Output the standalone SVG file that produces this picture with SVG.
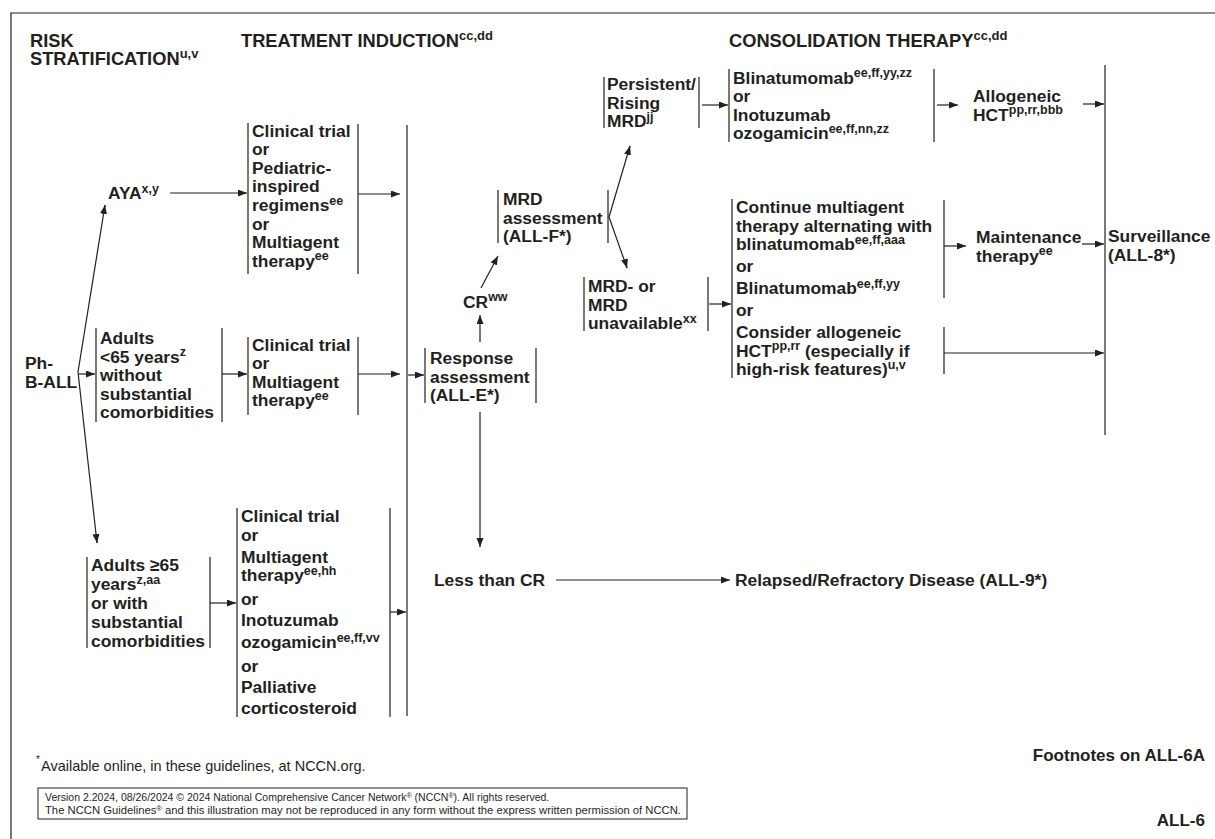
<svg xmlns="http://www.w3.org/2000/svg" width="1215" height="839" viewBox="0 0 1215 839">
<defs>
<marker id="ah" markerUnits="userSpaceOnUse" markerWidth="10" markerHeight="8" refX="9" refY="3.5" orient="auto">
<path d="M0,0 L9,3.5 L0,7 z" fill="#231f20"/>
</marker>
<style>
text{font-family:"Liberation Sans",Arial,Helvetica,sans-serif;fill:#231f20}
.t{font-weight:bold;font-size:17.4px}
.h{font-weight:bold;font-size:18.3px}
.s{font-size:12.5px}
.hs{font-size:13px}
.r{font-weight:normal}
.ln{stroke:#231f20;stroke-width:1.2;fill:none}
.ar{stroke:#231f20;stroke-width:1.2;fill:none;marker-end:url(#ah)}
</style>
</defs>
<rect width="1215" height="839" fill="#fff"/>
<path class="ln" d="M11,839 V13 H1215"/>

<g id="headers">
<text class="h" x="30" y="47">RISK</text>
<text class="h" x="30" y="65">STRATIFICATION<tspan class="hs" dy="-7">u,v</tspan></text>
<text class="h" x="241" y="47">TREATMENT INDUCTION<tspan class="hs" dy="-7">cc,dd</tspan></text>
<text class="h" x="729" y="47">CONSOLIDATION THERAPY<tspan class="hs" dy="-7">cc,dd</tspan></text>
</g>

<g id="ph-b-all"><text class="t" x="25" y="369">Ph-<tspan x="25" y="388">B-ALL</tspan></text></g>

<g id="aya"><text class="t" x="108" y="199">AYA<tspan class="s" dy="-6.5">x,y</tspan></text></g>

<g id="aya-tx">
<path class="ln" d="M248,123 V274 M358,124 V274"/>
<text class="t" x="252" y="136.7">Clinical trial<tspan x="252" y="155.3">or</tspan><tspan x="252" y="173.9">Pediatric-</tspan><tspan x="252" y="192.4">inspired</tspan><tspan x="252" y="211">regimens<tspan class="s" dy="-6.5">ee</tspan></tspan><tspan x="252" y="229.6">or</tspan><tspan x="252" y="248.1">Multiagent</tspan><tspan x="252" y="266.7">therapy<tspan class="s" dy="-6.5">ee</tspan></tspan></text>
</g>

<g id="adults-lt65">
<path class="ln" d="M96,328 V422 M222,328 V422"/>
<text class="t" x="100" y="344">Adults<tspan x="100" y="362.6">&lt;65 years<tspan class="s" dy="-6.5">z</tspan></tspan><tspan x="100" y="381.2">without</tspan><tspan x="100" y="399.8">substantial</tspan><tspan x="100" y="418.4">comorbidities</tspan></text>
</g>

<g id="adults-lt65-tx">
<path class="ln" d="M248,337 V415 M358,337 V415"/>
<text class="t" x="252" y="350.5">Clinical trial<tspan x="252" y="369.1">or</tspan><tspan x="252" y="387.7">Multiagent</tspan><tspan x="252" y="406.3">therapy<tspan class="s" dy="-6.5">ee</tspan></tspan></text>
</g>

<g id="adults-ge65">
<path class="ln" d="M87,557 V648 M210,557 V648"/>
<text class="t" x="91" y="571">Adults ≥65<tspan x="91" y="590">years<tspan class="s" dy="-6.5">z,aa</tspan></tspan><tspan x="91" y="609">or with</tspan><tspan x="91" y="628">substantial</tspan><tspan x="91" y="647">comorbidities</tspan></text>
</g>

<g id="adults-ge65-tx">
<path class="ln" d="M237,508 V717 M390,508 V717"/>
<text class="t" x="241" y="522">Clinical trial<tspan x="241" y="541">or</tspan><tspan x="241" y="563">Multiagent</tspan><tspan x="241" y="581">therapy<tspan class="s" dy="-6.5">ee,hh</tspan></tspan><tspan x="241" y="605">or</tspan><tspan x="241" y="626">Inotuzumab</tspan><tspan x="241" y="648">ozogamicin<tspan class="s" dy="-6.5">ee,ff,vv</tspan></tspan><tspan x="241" y="672">or</tspan><tspan x="241" y="693">Palliative</tspan><tspan x="241" y="714">corticosteroid</tspan></text>
</g>

<g id="induction-bar"><path class="ln" d="M407,125 V716"/></g>

<g id="response">
<path class="ln" d="M425,348 V403 M536,348 V403"/>
<text class="t" x="430" y="364">Response<tspan x="430" y="382.6">assessment</tspan><tspan x="430" y="401.2">(ALL-E*)</tspan></text>
</g>

<g id="cr"><text class="t" x="463" y="307.5">CR<tspan class="s" dy="-6.5">ww</tspan></text></g>

<g id="mrd-assessment">
<path class="ln" d="M498,190 V243 M608,190 V243"/>
<text class="t" x="503" y="205">MRD<tspan x="503" y="223.6">assessment</tspan><tspan x="503" y="242.2">(ALL-F*)</tspan></text>
</g>

<g id="persistent">
<path class="ln" d="M604,77 V128 M699,77 V128"/>
<text class="t" x="607" y="90">Persistent/<tspan x="607" y="108.6">Rising</tspan><tspan x="607" y="127.2">MRD<tspan class="s" dy="-6.5">jj</tspan></tspan></text>
</g>

<g id="blina-ino">
<path class="ln" d="M729,69 V142 M934,69 V142"/>
<text class="t" x="733" y="83.5">Blinatumomab<tspan class="s" dy="-6.5">ee,ff,yy,zz</tspan><tspan x="733" y="102.1">or</tspan><tspan x="733" y="120.7">Inotuzumab</tspan><tspan x="733" y="139.3">ozogamicin<tspan class="s" dy="-6.5">ee,ff,nn,zz</tspan></tspan></text>
</g>

<g id="allo-hct"><text class="t" x="973" y="102">Allogeneic<tspan x="973" y="120.6">HCT<tspan class="s" dy="-6.5">pp,rr,bbb</tspan></tspan></text></g>

<g id="mrd-neg">
<path class="ln" d="M584,277 V331 M708,277 V331"/>
<text class="t" x="588" y="292">MRD- or<tspan x="588" y="310.6">MRD</tspan><tspan x="588" y="329.2">unavailable<tspan class="s" dy="-6.5">xx</tspan></tspan></text>
</g>

<g id="continue">
<path class="ln" d="M732,199 V378 M944,200 V298 M944,327 V374"/>
<text class="t" x="736" y="213">Continue multiagent<tspan x="736" y="231.6">therapy alternating with</tspan><tspan x="736" y="250.2">blinatumomab<tspan class="s" dy="-6.5">ee,ff,aaa</tspan></tspan><tspan x="736" y="271.5">or</tspan><tspan x="736" y="294">Blinatumomab<tspan class="s" dy="-6.5">ee,ff,yy</tspan></tspan><tspan x="736" y="316">or</tspan><tspan x="736" y="338">Consider allogeneic</tspan><tspan x="736" y="356.6">HCT<tspan class="s" dy="-6.5">pp,rr</tspan><tspan dy="6.5"> (especially if</tspan></tspan><tspan x="736" y="375.2">high-risk features)<tspan class="s" dy="-6.5">u,v</tspan></tspan></text>
</g>

<g id="maintenance"><text class="t" x="976" y="243">Maintenance<tspan x="976" y="261.6">therapy<tspan class="s" dy="-6.5">ee</tspan></tspan></text></g>

<g id="surveillance">
<path class="ln" d="M1105,65 V435"/>
<text class="t" x="1108" y="242">Surveillance<tspan x="1108" y="260.6">(ALL-8*)</tspan></text>
</g>

<g id="less-than-cr"><text class="t" x="434" y="586">Less than CR</text></g>
<g id="relapsed"><text class="t" x="735" y="586">Relapsed/Refractory Disease (ALL-9*)</text></g>

<g id="connectors">
<path class="ln" d="M105,205 L78,372 L97,543"/>
<path class="ar" d="M103.5,214 L105,205"/>
<path class="ar" d="M96,534 L97,543"/>
<path class="ar" d="M79,374 H95"/>
<path class="ar" d="M170,193 H247"/>
<path class="ar" d="M358,194 H400"/>
<path class="ar" d="M222,374 H247"/>
<path class="ar" d="M358,374 H400"/>
<path class="ar" d="M408,375 H424"/>
<path class="ar" d="M210,603 H236"/>
<path class="ar" d="M390,612 H406"/>
<path class="ar" d="M480,342 V315"/>
<path class="ar" d="M481,288 L498,256"/>
<path class="ln" d="M630,146 L609,217 L627,268"/>
<path class="ar" d="M628,153 L630,146"/>
<path class="ar" d="M625,261 L627,268"/>
<path class="ar" d="M702,105 H728"/>
<path class="ar" d="M937,105 H958"/>
<path class="ar" d="M1083,104 H1104"/>
<path class="ar" d="M709,304 H731"/>
<path class="ar" d="M944,246 H966"/>
<path class="ar" d="M1082,244 H1104"/>
<path class="ar" d="M944,353 H1104"/>
<path class="ar" d="M480,412 V547"/>
<path class="ar" d="M556,580 H730"/>
</g>

<g id="footer">
<text class="r" x="36" y="763" font-size="10">*</text>
<text class="r" x="41" y="771" font-size="14.5">Available online, in these guidelines, at NCCN.org.</text>
<rect x="38" y="788" width="649" height="31" fill="none" stroke="#231f20" stroke-width="1"/>
<text class="r" x="45" y="801" font-size="10.5">Version 2.2024, 08/26/2024 © 2024 National Comprehensive Cancer Network<tspan font-size="7" dy="-3.5">®</tspan><tspan dy="3.5"> (NCCN</tspan><tspan font-size="7" dy="-3.5">®</tspan><tspan dy="3.5">). All rights reserved.</tspan></text>
<text class="r" x="45" y="814" font-size="10.5" textLength="636" lengthAdjust="spacingAndGlyphs">The NCCN Guidelines<tspan font-size="7" dy="-3.5">®</tspan><tspan dy="3.5"> and this illustration may not be reproduced in any form without the express written permission of NCCN.</tspan></text>
<text x="1205" y="761" font-weight="bold" font-size="17" text-anchor="end">Footnotes on ALL-6A</text>
<text x="1205" y="826" font-weight="bold" font-size="17" text-anchor="end">ALL-6</text>
</g>
</svg>
